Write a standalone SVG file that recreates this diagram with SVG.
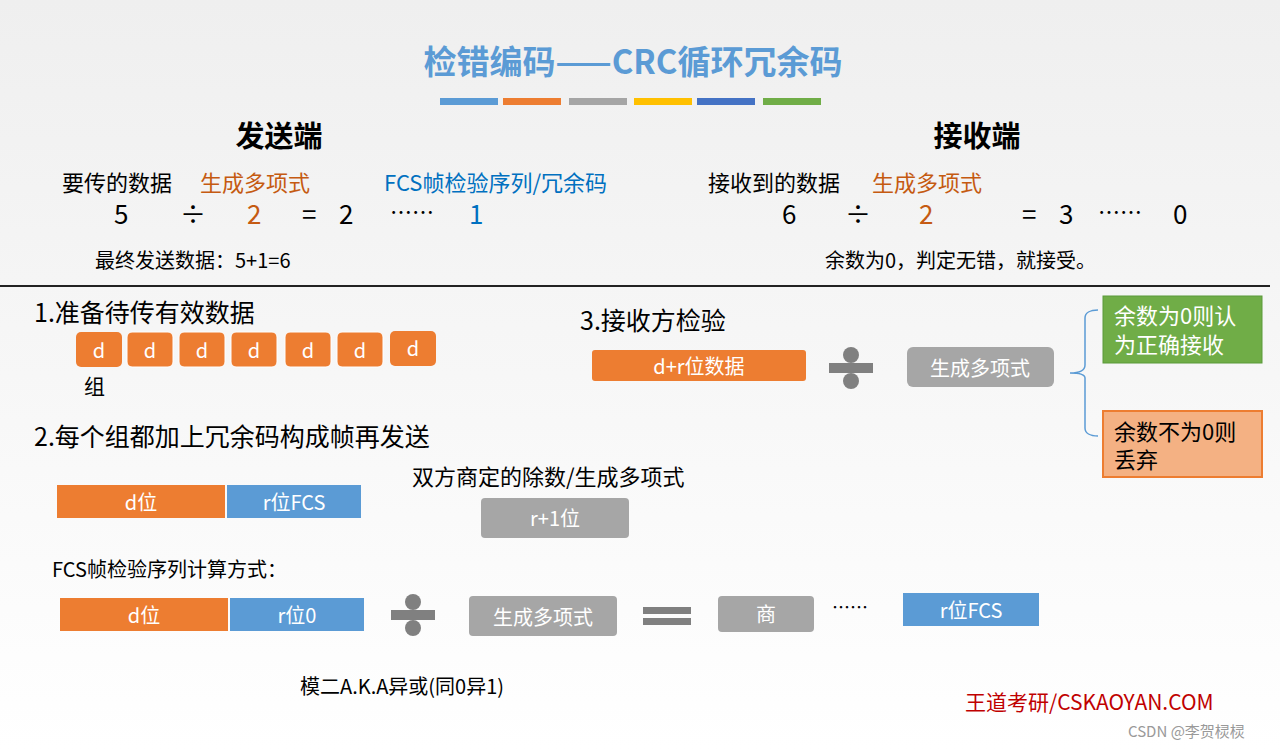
<svg xmlns="http://www.w3.org/2000/svg" width="1280" height="750" viewBox="0 0 1280 750">
<defs>
<linearGradient id="bg" x1="0" y1="0" x2="0" y2="1"><stop offset="0" stop-color="#efefef"/><stop offset="1" stop-color="#ffffff"/></linearGradient>
<g id="div"><circle cx="0" cy="-13" r="8" fill="#808080"/><rect x="-22" y="-5" width="44" height="10" fill="#808080"/><circle cx="0" cy="13" r="8" fill="#808080"/></g>
</defs>
<style>
text{font-family:"Noto Sans CJK SC","Noto Sans",sans-serif;}
.t{fill:#000}
.w{fill:#fff;text-anchor:middle;font-size:20px}
.o{fill:#ed7d31}.b{fill:#5b9bd5}.g{fill:#a6a6a6}
.big{font-size:26px}
</style>
<rect width="1280" height="750" fill="url(#bg)"/>
<text x="633" y="74" text-anchor="middle" font-size="33" font-weight="bold" fill="#5b9bd5">检错编码——CRC循环冗余码</text>
<rect x="440" y="98" width="58" height="7" fill="#5b9bd5"/><rect x="503" y="98" width="58" height="7" fill="#ed7d31"/><rect x="569" y="98" width="58" height="7" fill="#a5a5a5"/><rect x="634" y="98" width="58" height="7" fill="#ffc000"/><rect x="697" y="98" width="58" height="7" fill="#4472c4"/><rect x="763" y="98" width="58" height="7" fill="#70ad47"/>
<text x="279" y="147" text-anchor="middle" font-size="29" font-weight="bold">发送端</text>
<text x="977" y="147" text-anchor="middle" font-size="29" font-weight="bold">接收端</text>
<text x="62" y="191" font-size="22">要传的数据</text>
<text x="200" y="191" font-size="22" fill="#c55a11">生成多项式</text>
<text x="384" y="191" font-size="22" fill="#0070c0">FCS帧检验序列/冗余码</text>
<text x="114" y="224" class="big">5</text><text x="180" y="224" class="big">÷</text><text x="247" y="224" class="big" fill="#c55a11">2</text><text x="302" y="224" class="big">=</text><text x="339" y="224" class="big">2</text><text x="390" y="220" font-size="22">……</text><text x="469" y="224" class="big" fill="#0070c0">1</text>
<text x="95" y="268" font-size="20">最终发送数据：5+1=6</text>
<text x="708" y="191" font-size="22">接收到的数据</text>
<text x="872" y="191" font-size="22" fill="#c55a11">生成多项式</text>
<text x="782" y="224" class="big">6</text><text x="845" y="224" class="big">÷</text><text x="919" y="224" class="big" fill="#c55a11">2</text><text x="1022" y="224" class="big">=</text><text x="1059" y="224" class="big">3</text><text x="1098" y="220" font-size="22">……</text><text x="1173" y="224" class="big">0</text>
<text x="825" y="268" font-size="20">余数为0，判定无错，就接受。</text>
<line x1="0" y1="286" x2="1270" y2="286" stroke="#222" stroke-width="2"/>
<text x="34" y="322" class="t" font-size="25">1.准备待传有效数据</text>
<g id="dgroup">
<rect x="76" y="332" width="46" height="35" rx="5" class="o"/><text x="99" y="358" class="w">d</text>
<rect x="127" y="332" width="46" height="35" rx="5" class="o" stroke="#fff"/><text x="150" y="358" class="w">d</text>
<rect x="179" y="332" width="46" height="35" rx="5" class="o" stroke="#fff"/><text x="202" y="358" class="w">d</text>
<rect x="231" y="332" width="46" height="35" rx="5" class="o" stroke="#fff"/><text x="254" y="358" class="w">d</text>
<rect x="285" y="332" width="46" height="35" rx="5" class="o" stroke="#fff"/><text x="308" y="358" class="w">d</text>
<rect x="337" y="332" width="46" height="35" rx="5" class="o" stroke="#fff"/><text x="360" y="358" class="w">d</text>
<rect x="390" y="331" width="46" height="35" rx="5" class="o"/><text x="413" y="356" class="w">d</text>
</g>
<text x="84" y="394" font-size="21">组</text>
<text x="34" y="446" class="t" font-size="25">2.每个组都加上冗余码构成帧再发送</text>
<g id="frame"><rect x="57" y="485" width="168" height="33" class="o"/><text x="141" y="510" class="w">d位</text><rect x="227" y="485" width="134" height="33" class="b"/><text x="294" y="510" class="w">r位FCS</text></g>
<text x="412" y="485" font-size="22">双方商定的除数/生成多项式</text>
<g id="gen1"><rect x="481" y="498" width="148" height="40" rx="4" class="g"/><text x="555" y="526" class="w">r+1位</text></g>
<text x="52" y="577" font-size="20">FCS帧检验序列计算方式：</text>
<g id="calc"><rect x="60" y="598" width="168" height="33" class="o"/><text x="144" y="623" class="w">d位</text><rect x="230" y="598" width="134" height="33" class="b"/><text x="297" y="623" class="w">r位0</text></g>
<use href="#div" x="413" y="615"/>
<g id="gen2"><rect x="469" y="596" width="148" height="40" rx="4" class="g"/><text x="543" y="625" class="w" font-size="22">生成多项式</text></g>
<rect x="643" y="607" width="48" height="7" fill="#808080"/><rect x="643" y="618" width="48" height="7" fill="#808080"/>
<g id="q"><rect x="718" y="596" width="96" height="36" rx="4" class="g"/><text x="766" y="622" class="w">商</text></g>
<text x="832" y="614" font-size="18">……</text>
<g id="fcs"><rect x="903" y="593" width="136" height="33" class="b"/><text x="971" y="618" class="w">r位FCS</text></g>
<text x="300" y="694" font-size="20">模二A.K.A异或(同0异1)</text>
<text x="580" y="330" class="t" font-size="25">3.接收方检验</text>
<g id="dr"><rect x="592" y="350" width="214" height="31" rx="3" class="o"/><text x="699" y="374" class="w" font-size="21">d+r位数据</text></g>
<use href="#div" x="851" y="368"/>
<g id="gen3"><rect x="907" y="347" width="147" height="40" rx="6" class="g"/><text x="980" y="376" class="w" font-size="22">生成多项式</text></g>
<g id="connectors"><path d="M1070,373 C1080,373 1085,370 1085,365 L1085,318 C1085,313 1090,310 1098,310 M1085,378 L1085,428 C1085,433 1090,436 1098,436 M1085,378 C1085,375 1080,373 1070,373" fill="none" stroke="#5b9bd5" stroke-width="1.5"/></g>
<g id="ok"><rect x="1103" y="296" width="159" height="67" fill="#70ad47" stroke="#5a9a3a"/><text x="1114" y="324" font-size="22" fill="#fff">余数为0则认</text><text x="1114" y="353" font-size="22" fill="#fff">为正确接收</text></g>
<g id="bad"><rect x="1103" y="411" width="159" height="66" fill="#f4b183" stroke="#ed7d31" stroke-width="2"/><text x="1114" y="440" font-size="22">余数不为0则</text><text x="1114" y="468" font-size="22">丢弃</text></g>
<text x="965" y="710" font-size="21" fill="#c00000">王道考研/CSKAOYAN.COM</text>
<text x="1128" y="737" font-size="15" fill="#999">CSDN @李贺棂棂</text>
</svg>
